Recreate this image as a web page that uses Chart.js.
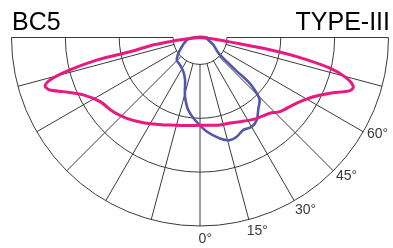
<!DOCTYPE html>
<html>
<head>
<meta charset="utf-8">
<script src="https://cdn.jsdelivr.net/npm/chart.js@4.4.1/dist/chart.umd.min.js"></script>
<style>
  body { margin: 0; background: #fff; }
  #chartBox { width: 393px; height: 248px; }
</style>
</head>
<body>
<div id="chartBox"><canvas id="polarChart" width="393" height="248"></canvas></div>
<script>
// Angles in degrees from nadir (0 = straight down), negative = left side
const magentaAngles = [-90, -84, -82, -80.5, -78.5, -77.7, -76, -74.2, -72.6, -70.7, -68.4, -63.8, -57.3, -49.4, -42.2, -33.6, -22.8, -18.9, -10, 0, 12.9, 19.4, 25.4, 29.3, 35.1, 42.7, 47.2, 55.8, 62.4, 66.8, 70.5, 72.2, 74.5, 76.7, 78.8, 80.3, 81.5, 84, 90];
const magentaValues = [0, 0.6, 1.2, 1.9, 2.65, 3.9, 4.98, 5.79, 6.03, 5.9, 5.46, 4.83, 4.41, 4.24, 4.05, 3.8, 3.52, 3.43, 3.32, 3.26, 3.33, 3.37, 3.46, 3.54, 3.67, 3.83, 4.05, 4.34, 4.75, 5.25, 5.91, 5.98, 5.65, 4.96, 3.66, 2.38, 1.1, 0.5, 0];

const blueAngles = [-90, -79.4, -58, -46, -36, -26, -19.4, -17, -14.2, -9.2, -3.5, 4.1, 11.2, 16.3, 20.3, 25.1, 30.1, 34.5, 39.5, 43.8, 46, 47.5, 47.5, 48, 50, 61, 83, 90, 180, -90];
const blueValues = [0.25, 0.5, 0.88, 1.2, 1.26, 1.41, 1.67, 1.9, 2.27, 2.73, 3.07, 3.5, 3.82, 3.97, 3.93, 3.79, 3.83, 3.72, 3.41, 3.2, 2.85, 2.43, 1.86, 1.34, 0.9, 0.57, 0.25, 0.25, 0.03, 0.25];

// Grid and tick labels
const ringValues = [1, 3, 5, 7];
const spokeAngles = [-90, -75, -60, -45, -30, -15, 0, 15, 30, 45, 60, 75, 90];
const tickAngles = [0, 15, 30, 45, 60];
const tickLabels = ["0°", "15°", "30°", "45°", "60°"];

function toXY(angles, values) {
    return angles.map((a, i) => {
        const rad = a * Math.PI / 180;
        return { x: values[i] * Math.sin(rad), y: -values[i] * Math.cos(rad) };
    });
}

// draws the half polar grid, angle labels and the two corner titles
const polarGrid = {
    id: "polarGrid",
    beforeDatasetsDraw(chart) {
        const ctx = chart.ctx;
        const xs = chart.scales.x, ys = chart.scales.y;
        const cx = xs.getPixelForValue(0), cy = ys.getPixelForValue(0);
        const unit = xs.getPixelForValue(1) - cx;

        ctx.save();
        ctx.strokeStyle = "#3a3a3a";
        ctx.lineWidth = 1;

        ringValues.forEach(v => {
            ctx.beginPath();
            ctx.arc(cx, cy, v * unit, 0, Math.PI);
            ctx.stroke();
        });

        const inner = ringValues[0], outer = ringValues[ringValues.length - 1];
        spokeAngles.forEach(a => {
            const rad = a * Math.PI / 180;
            ctx.beginPath();
            ctx.moveTo(xs.getPixelForValue(inner * Math.sin(rad)), ys.getPixelForValue(-inner * Math.cos(rad)));
            ctx.lineTo(xs.getPixelForValue(outer * Math.sin(rad)), ys.getPixelForValue(-outer * Math.cos(rad)));
            ctx.stroke();
        });

        ctx.fillStyle = "#3a3a3a";
        ctx.font = "14px 'Liberation Sans', Arial, sans-serif";
        ctx.textAlign = "center";
        ctx.textBaseline = "middle";
        tickAngles.forEach((a, i) => {
            const rad = (a + 1.5) * Math.PI / 180;
            const r = outer + 0.5;
            ctx.fillText(tickLabels[i], xs.getPixelForValue(r * Math.sin(rad)), ys.getPixelForValue(-r * Math.cos(rad)));
        });

        ctx.fillStyle = "#000";
        ctx.font = "25px 'Liberation Sans', Arial, sans-serif";
        ctx.textBaseline = "alphabetic";
        ctx.textAlign = "left";
        ctx.fillText("BC5", 12, 30);
        ctx.textAlign = "right";
        ctx.fillText("TYPE-III", 390, 30);
        ctx.restore();
    }
};

const unitPx = 26.93;
const ctx = document.getElementById("polarChart").getContext("2d");
new Chart(ctx, {
    type: "scatter",
    data: {
        datasets: [{
            label: "magenta",
            data: toXY(magentaAngles, magentaValues),
            showLine: true,
            borderColor: "#e8197f",
            borderWidth: 3,
            pointRadius: 0,
            tension: 0.3
        }, {
            label: "blue",
            data: toXY(blueAngles, blueValues),
            showLine: true,
            borderColor: "#5356aa",
            borderWidth: 2.6,
            pointRadius: 0,
            tension: 0.3
        }]
    },
    options: {
        responsive: false,
        animation: false,
        devicePixelRatio: 1,
        layout: { padding: 0 },
        plugins: {
            legend: { display: false },
            tooltip: { enabled: false }
        },
        scales: {
            x: { type: "linear", display: false, min: -200 / unitPx, max: 193 / unitPx },
            y: { type: "linear", display: false, min: -210.5 / unitPx, max: 37.5 / unitPx }
        }
    },
    plugins: [polarGrid]
});
</script>
</body>
</html>
